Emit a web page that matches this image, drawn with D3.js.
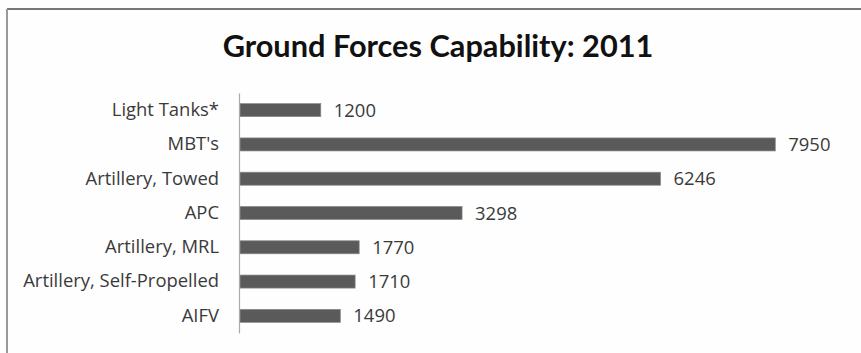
<!DOCTYPE html>
<html><head><meta charset="utf-8">
<script src="https://cdn.jsdelivr.net/npm/d3@7"></script>
<style>body{margin:0;background:#fff}svg{display:block}</style>
</head><body>
<svg id="c" width="861" height="353"></svg>
<script>
const categories = ["Light Tanks*", "MBT's", "Artillery, Towed", "APC", "Artillery, MRL", "Artillery, Self-Propelled", "AIFV"];
const values = [1200, 7950, 6246, 3298, 1770, 1710, 1490];
const title = "Ground Forces Capability: 2011";

const FONT = "'Open Sans', Lato, sans-serif";
const svg = d3.select("#c");
svg.append("rect").attr("x",0).attr("y",0).attr("width",861).attr("height",353).attr("fill","#fefefe");
// frame (only top & left visible)
svg.append("line").attr("x1",7).attr("x2",861).attr("y1",9).attr("y2",9).attr("stroke","#777").attr("stroke-width",2);
svg.append("line").attr("x1",7).attr("x2",7).attr("y1",9).attr("y2",353).attr("stroke","#999").attr("stroke-width",2);

const x = d3.scaleLinear().domain([0, 9000]).range([240, 846]);
const y = d3.scaleBand().domain(categories).range([93, 333]).paddingInner(0.62).paddingOuter(0.31);

const t = svg.append("text").attr("x",438).attr("y",57).attr("text-anchor","middle")
  .attr("font-family","Lato, 'Open Sans', sans-serif").attr("font-weight","bold").attr("font-size",24)
  .attr("fill","#111").text(title);
const tw = t.node().getComputedTextLength();
t.attr("font-size", 24*431/tw);

svg.selectAll("rect.bar").data(values).join("rect").attr("class","bar")
  .attr("x", x(0)).attr("y",(d,i)=>y(categories[i]))
  .attr("width", d=>x(d)-x(0)).attr("height", y.bandwidth())
  .attr("fill","#5a5a5a").attr("stroke","#8a8a8a").attr("stroke-width",0.7);

const yAxis = d3.axisLeft(y).tickSize(0).tickPadding(20);
const g = svg.append("g").attr("transform",`translate(${x(0)-1},0)`).call(yAxis);
g.select(".domain").attr("stroke","#aaa").attr("stroke-width",1.2);
g.selectAll("text").attr("font-family",FONT).attr("font-size",15).attr("fill","#3a3a3a");
// fit widest label to reference width
let maxW = 0;
g.selectAll("text").each(function(){ maxW = Math.max(maxW, this.getComputedTextLength()); });
const fs = 15*196/maxW;
g.selectAll("text").attr("font-size", fs);

svg.selectAll("text.val").data(values).join("text").attr("class","val")
  .attr("x", d=>x(d)+13).attr("y",(d,i)=>y(categories[i])+y.bandwidth()/2)
  .attr("dy","0.36em")
  .attr("font-family",FONT).attr("font-size",fs).attr("fill","#3a3a3a")
  .text(d=>d);
</script>
</body></html>
